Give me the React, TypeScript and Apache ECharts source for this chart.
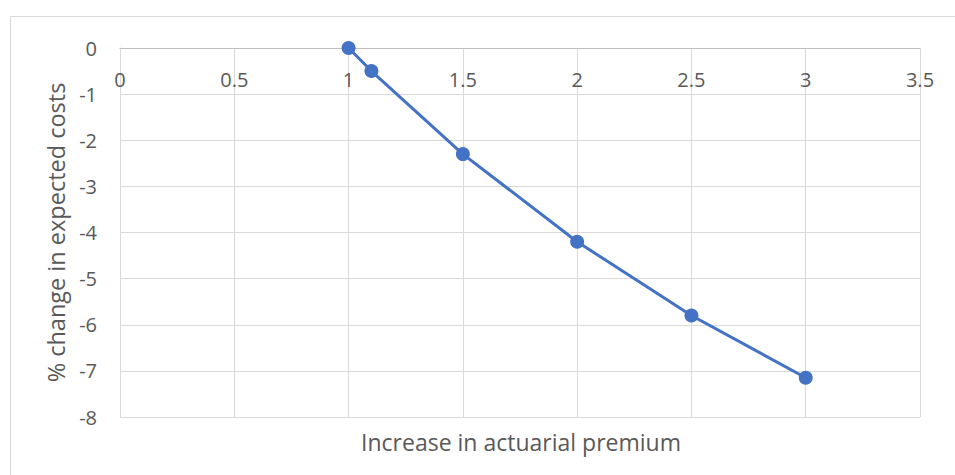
import React, { useEffect, useRef } from "react";
import * as echarts from "echarts";

const premiumIncrease = [1, 1.1, 1.5, 2, 2.5, 3];
const costChange = [0, -0.5, -2.3, -4.2, -5.8, -7.15];

const FONT = "'Open Sans', 'Noto Sans', sans-serif";
const TEXT = "#595959";

export default function App() {
  const ref = useRef<HTMLDivElement>(null);

  useEffect(() => {
    if (!ref.current) return;
    const chart = echarts.init(ref.current, undefined, { renderer: "svg" });
    chart.setOption({
      animation: false,
      backgroundColor: "#ffffff",
      textStyle: { fontFamily: FONT },
      grid: { left: 120, right: 35, top: 48, bottom: 58, containLabel: false },
      graphic: [
        {
          type: "rect",
          shape: { x: 10.5, y: 16.5, width: 960, height: 470 },
          style: { fill: "none", stroke: "#d9d9d9", lineWidth: 1 },
          silent: true,
        },
        {
          type: "text",
          x: 521,
          y: 442,
          style: {
            text: "Increase in actuarial premium",
            fill: TEXT,
            font: `23px ${FONT}`,
            textAlign: "center",
            textVerticalAlign: "middle",
          },
        },
      ],
      xAxis: {
        type: "value",
        position: "top",
        min: 0,
        max: 3.5,
        interval: 0.5,
        axisLine: { show: true, lineStyle: { color: "#bfbfbf", width: 1 } },
        axisTick: { show: false },
        axisLabel: { inside: true, color: TEXT, fontSize: 20, fontFamily: FONT, margin: 21 },
        splitLine: { show: true, lineStyle: { color: "#d9d9d9", width: 1 } },
      },
      yAxis: {
        type: "value",
        min: -8,
        max: 0,
        interval: 1,
        name: "% change in expected costs",
        nameLocation: "middle",
        nameGap: 51,
        nameTextStyle: { color: TEXT, fontSize: 23.5, fontFamily: FONT },
        axisLine: { show: true, onZero: false, lineStyle: { color: "#d9d9d9", width: 1 } },
        axisTick: { show: false },
        axisLabel: { color: TEXT, fontSize: 20, fontFamily: FONT, margin: 23 },
        splitLine: { show: true, lineStyle: { color: "#d9d9d9", width: 1 } },
      },
      series: [
        {
          type: "line",
          data: premiumIncrease.map((x, i) => [x, costChange[i]]),
          symbol: "circle",
          symbolSize: 14,
          lineStyle: { color: "#4472C4", width: 3 },
          itemStyle: { color: "#4472C4" },
        },
      ],
    });
    return () => chart.dispose();
  }, []);

  return (
    <div
      ref={ref}
      style={{ position: "absolute", left: 0, top: 0, width: 955, height: 475 }}
    />
  );
}
